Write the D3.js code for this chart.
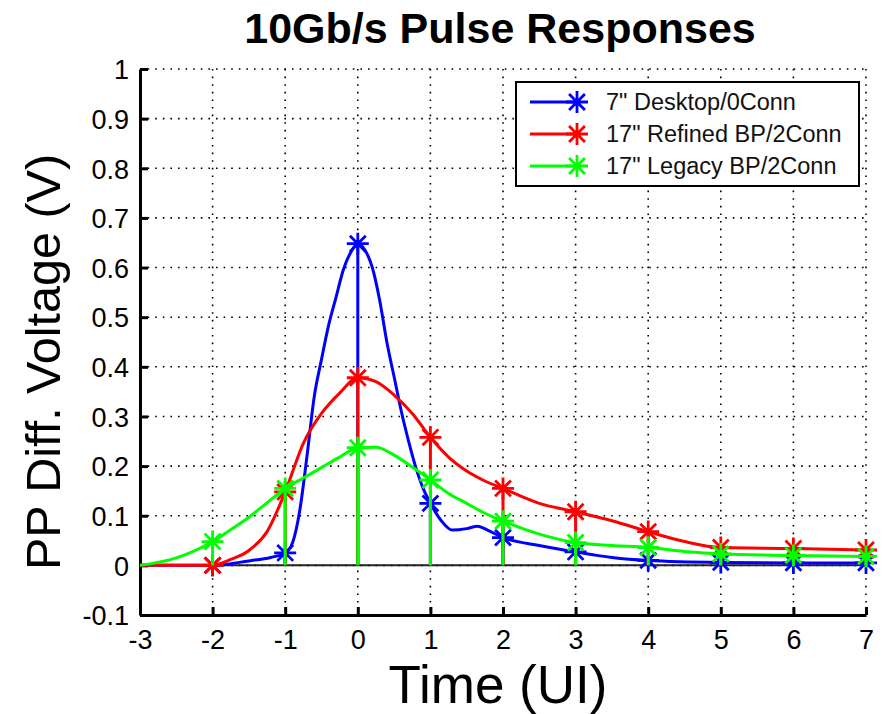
<!DOCTYPE html>
<html>
<head>
<meta charset="utf-8">
<script src="https://cdn.jsdelivr.net/npm/d3@7"></script>
<style>
  body { margin: 0; background: #fff; }
  svg { display: block; font-family: "Liberation Sans", Arial, sans-serif; }
</style>
</head>
<body>
<script>
// series names (legend order)
var seriesNames = ['7" Desktop/0Conn', '17" Refined BP/2Conn', '17" Legacy BP/2Conn'];
var seriesColors = ["#0000ff", "#ff0000", "#00ff00"];

// sampled symbol instants (UI)
var markTimes = [-2, -1, 0, 1, 2, 3, 4, 5, 6, 7];
var desktopMarks = [0.0, 0.025, 0.648, 0.125, 0.056, 0.027, 0.010, 0.006, 0.005, 0.005];
var refinedMarks = [0.0, 0.148, 0.378, 0.258, 0.155, 0.108, 0.068, 0.036, 0.034, 0.031];
var legacyMarks  = [0.048, 0.155, 0.237, 0.172, 0.089, 0.046, 0.036, 0.023, 0.020, 0.018];

// continuous waveforms
var desktopT = [-3, -2.4, -2, -1.5, -1.2, -1, -0.9, -0.8, -0.7, -0.6, -0.5, -0.4, -0.3, -0.2, -0.1, 0,
                0.1, 0.2, 0.3, 0.4, 0.5, 0.6, 0.7, 0.8, 0.9, 1, 1.15, 1.3, 1.5, 1.65, 1.8, 2,
                2.5, 3, 3.5, 4, 5, 6, 7];
var desktopV = [0, 0, 0.0, 0.009, 0.016, 0.025, 0.045, 0.11, 0.22, 0.34, 0.415, 0.485, 0.54, 0.595, 0.63, 0.648,
                0.635, 0.6, 0.535, 0.45, 0.38, 0.31, 0.25, 0.197, 0.155, 0.125, 0.09, 0.071, 0.074, 0.079, 0.07, 0.056,
                0.04, 0.027, 0.016, 0.010, 0.006, 0.005, 0.005];

var waveT = [-3, -2.5, -2, -1.75, -1.5, -1.25, -1, -0.75, -0.5, -0.25, 0, 0.25, 0.5, 0.75, 1,
             1.25, 1.5, 1.75, 2, 2.5, 3, 3.5, 4, 4.5, 5, 6, 7];
var refinedV = [0, 0, 0.0, 0.012, 0.03, 0.068, 0.148, 0.246, 0.306, 0.347, 0.378, 0.37, 0.343, 0.306, 0.258,
                0.218, 0.19, 0.17, 0.155, 0.125, 0.108, 0.09, 0.068, 0.048, 0.036, 0.034, 0.031];
var legacyV  = [0, 0.015, 0.048, 0.072, 0.097, 0.126, 0.155, 0.176, 0.197, 0.218, 0.237, 0.238, 0.222, 0.198, 0.172,
                0.145, 0.125, 0.105, 0.089, 0.063, 0.046, 0.04, 0.036, 0.028, 0.023, 0.020, 0.018];

var xTicks = [-3, -2, -1, 0, 1, 2, 3, 4, 5, 6, 7];
var yTicks = [-0.1, 0, 0.1, 0.2, 0.3, 0.4, 0.5, 0.6, 0.7, 0.8, 0.9, 1];

var series = [
  { t: desktopT, v: desktopV, m: desktopMarks },
  { t: waveT, v: refinedV, m: refinedMarks },
  { t: waveT, v: legacyV, m: legacyMarks }
];

var W = 885, H = 714;
var margin = {top: 69, right: 19, bottom: 99, left: 140},
    width = W - margin.left - margin.right,
    height = H - margin.top - margin.bottom;

var x = d3.scaleLinear().domain([-3, 7]).range([0, width]);
var y = d3.scaleLinear().domain([-0.1, 1]).range([height, 0]);

var svg = d3.select("body").append("svg")
    .attr("width", W)
    .attr("height", H);

var g = svg.append("g")
    .attr("transform", "translate(" + margin.left + "," + margin.top + ")");

// dotted grid
g.selectAll(".vgrid")
  .data(xTicks.slice(1))
  .enter().append("line")
  .attr("x1", function(d) { return x(d); })
  .attr("x2", function(d) { return x(d); })
  .attr("y1", 0).attr("y2", height)
  .style("stroke", "#000")
  .style("stroke-width", 1.6)
  .style("stroke-dasharray", "1.6,6");

g.selectAll(".hgrid")
  .data(yTicks.slice(1))
  .enter().append("line")
  .attr("x1", 0).attr("x2", width)
  .attr("y1", function(d) { return y(d); })
  .attr("y2", function(d) { return y(d); })
  .style("stroke", "#000")
  .style("stroke-width", 1.6)
  .style("stroke-dasharray", "1.6,6");

// zero baseline
g.append("line")
  .attr("x1", 0).attr("x2", width)
  .attr("y1", y(0)).attr("y2", y(0))
  .style("stroke", "#222")
  .style("stroke-width", 2);

// axes (ticks point inward), plain hyphen for negatives like the original
var fmt = function(d) { return String(Math.round(d * 10) / 10).replace("\u2212", "-"); };
var xAxis = d3.axisBottom(x).tickValues(xTicks).tickSizeInner(-8).tickSizeOuter(0).tickPadding(15).tickFormat(fmt);
var yAxis = d3.axisLeft(y).tickValues(yTicks).tickSizeInner(-8).tickSizeOuter(0).tickPadding(11).tickFormat(fmt);

var gx = g.append("g")
  .attr("transform", "translate(0," + height + ")")
  .call(xAxis);
var gy = g.append("g").call(yAxis);

[gx, gy].forEach(function(a) {
  a.select(".domain").style("stroke", "#000").style("stroke-width", 3);
  a.selectAll(".tick line").style("stroke", "#000").style("stroke-width", 3);
  a.selectAll("text")
    .style("font-size", "27px")
    .style("font-family", "Liberation Sans, Arial, sans-serif")
    .style("fill", "#000");
});
gy.selectAll("text").attr("dy", "0.36em");
gx.selectAll("text").attr("dy", "0.71em");

var line = d3.line()
  .x(function(d) { return x(d[0]); })
  .y(function(d) { return y(d[1]); })
  .curve(d3.curveMonotoneX);

function star(r) {
  var k = r * 0.72;
  return "M" + (-r) + ",0L" + r + ",0M0," + (-r) + "L0," + r +
    "M" + (-k) + "," + (-k) + "L" + k + "," + k + "M" + (-k) + "," + k + "L" + k + "," + (-k);
}

series.forEach(function(s, i) {
  var col = seriesColors[i];
  var pts = s.t.map(function(t, j) { return [t, s.v[j]]; });
  g.append("path")
    .datum(pts)
    .attr("d", line)
    .style("fill", "none")
    .style("stroke", col)
    .style("stroke-width", 3);

  var marks = markTimes.map(function(t, j) { return [t, s.m[j]]; });

  g.selectAll(".stem" + i)
    .data(marks)
    .enter().append("line")
    .attr("x1", function(d) { return x(d[0]); })
    .attr("x2", function(d) { return x(d[0]); })
    .attr("y1", y(0))
    .attr("y2", function(d) { return y(d[1]); })
    .style("stroke", col)
    .style("stroke-width", 3);

  g.selectAll(".mark" + i)
    .data(marks)
    .enter().append("path")
    .attr("transform", function(d) { return "translate(" + x(d[0]) + "," + y(d[1]) + ")"; })
    .attr("d", star(11))
    .style("fill", "none")
    .style("stroke", col)
    .style("stroke-width", 2.8);
});

// legend
var lg = svg.append("g").attr("transform", "translate(516,82)");
lg.append("rect")
  .attr("width", 343).attr("height", 104)
  .style("fill", "#fff")
  .style("stroke", "#000")
  .style("stroke-width", 2);

seriesNames.forEach(function(name, i) {
  var ry = 20 + i * 32;
  lg.append("line")
    .attr("x1", 14).attr("x2", 61)
    .attr("y1", ry).attr("y2", ry)
    .style("stroke", seriesColors[i])
    .style("stroke-width", 3);
  lg.append("path")
    .attr("transform", "translate(61," + ry + ")")
    .attr("d", star(11))
    .style("fill", "none")
    .style("stroke", seriesColors[i])
    .style("stroke-width", 2.8);
  lg.append("text")
    .attr("x", 90).attr("y", ry)
    .attr("dy", "0.36em")
    .style("font-size", "23.5px")
    .style("fill", "#111")
    .text(name);
});

// titles
svg.append("text")
  .attr("x", 500).attr("y", 43)
  .attr("text-anchor", "middle")
  .style("font-size", "43px")
  .style("font-weight", "bold")
  .text("10Gb/s Pulse Responses");

svg.append("text")
  .attr("x", 498).attr("y", 703)
  .attr("text-anchor", "middle")
  .style("font-size", "53px")
  .text("Time (UI)");

svg.append("text")
  .attr("transform", "translate(60,362) rotate(-90)")
  .attr("text-anchor", "middle")
  .style("font-size", "48.5px")
  .text("PP Diff. Voltage (V)");
</script>
</body>
</html>
